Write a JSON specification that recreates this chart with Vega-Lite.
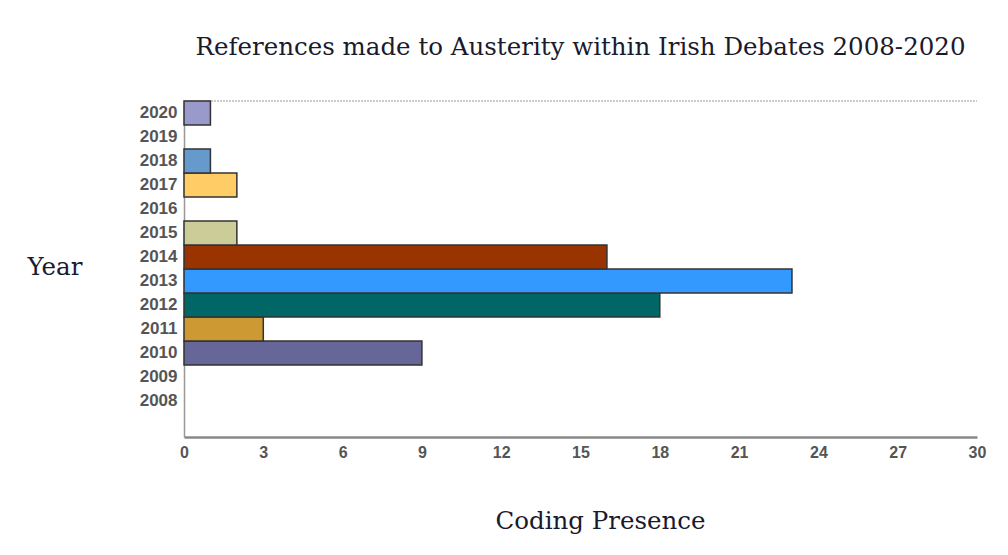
{
  "$schema": "https://vega.github.io/schema/vega-lite/v6.json",
  "width": 793,
  "height": 336,
  "autosize": "none",
  "padding": {"left": 184, "top": 101, "right": 31, "bottom": 118},
  "background": "white",
  "title": {
    "text": "References made to Austerity within Irish Debates 2008-2020",
    "font": "DejaVu Serif",
    "fontSize": 24.5,
    "fontWeight": "normal",
    "color": "#1a1a2e",
    "anchor": "middle",
    "offset": 40
  },
  "config": {
    "view": {"stroke": null},
    "axis": {"grid": false}
  },
  "data": {
    "values": [
      {"year": 2008, "value": 0, "color": "#ffffff"},
      {"year": 2009, "value": 0, "color": "#ffffff"},
      {"year": 2010, "value": 9, "color": "#666699"},
      {"year": 2011, "value": 3, "color": "#cc9933"},
      {"year": 2012, "value": 18, "color": "#006666"},
      {"year": 2013, "value": 23, "color": "#3399ff"},
      {"year": 2014, "value": 16, "color": "#993300"},
      {"year": 2015, "value": 2, "color": "#cccc99"},
      {"year": 2016, "value": 0, "color": "#ffffff"},
      {"year": 2017, "value": 2, "color": "#ffcc66"},
      {"year": 2018, "value": 1, "color": "#6699cc"},
      {"year": 2019, "value": 0, "color": "#ffffff"},
      {"year": 2020, "value": 1, "color": "#9999cc"}
    ]
  },
  "layer": [
    {
      "mark": {"type": "rule", "color": "#cccccc", "strokeWidth": 2, "strokeDash": [2, 1]},
      "encoding": {
        "y": {"value": 0},
        "x": {"datum": 0, "type": "quantitative"},
        "x2": {"datum": 30}
      }
    },
    {
      "transform": [{"filter": "datum.value > 0"}],
      "mark": {"type": "bar", "orient": "horizontal", "stroke": "#333333", "strokeWidth": 1.5},
      "encoding": {
        "y": {
          "field": "year",
          "type": "ordinal",
          "scale": {
            "domain": [2020, 2019, 2018, 2017, 2016, 2015, 2014, 2013, 2012, 2011, 2010, 2009, 2008],
            "paddingInner": 0,
            "paddingOuter": 0.5,
            "align": 0
          },
          "axis": {
            "ticks": false,
            "labelOverlap": false,
            "labelPadding": 7,
            "labelFont": "Liberation Sans",
            "labelFontSize": 17,
            "labelFontWeight": "bold",
            "labelColor": "#555555",
            "domainColor": "#999999",
            "domainWidth": 1.5,
            "title": "Year",
            "titleFont": "DejaVu Serif",
            "titleFontSize": 24.5,
            "titleFontWeight": "normal",
            "titleColor": "#1a1a2e",
            "titleAngle": 0,
            "titleAlign": "left",
            "titleBaseline": "middle",
            "titleX": -157,
            "titleY": 166
          }
        },
        "x": {
          "field": "value",
          "type": "quantitative",
          "scale": {"domain": [0, 30], "nice": false},
          "axis": {
            "values": [0, 3, 6, 9, 12, 15, 18, 21, 24, 27, 30],
            "ticks": false,
            "labelOverlap": false,
            "labelPadding": 7,
            "labelFont": "Liberation Sans",
            "labelFontSize": 16,
            "labelFontWeight": "bold",
            "labelColor": "#555555",
            "labelFlush": false,
            "domainColor": "#888888",
            "domainWidth": 2.5,
            "title": "Coding Presence",
            "titleFont": "DejaVu Serif",
            "titleFontSize": 24.5,
            "titleFontWeight": "normal",
            "titleColor": "#1a1a2e",
            "titleAlign": "center",
            "titleBaseline": "middle",
            "titleX": 416,
            "titleY": 84
          }
        },
        "color": {"field": "color", "type": "nominal", "scale": null, "legend": null}
      }
    }
  ]
}
